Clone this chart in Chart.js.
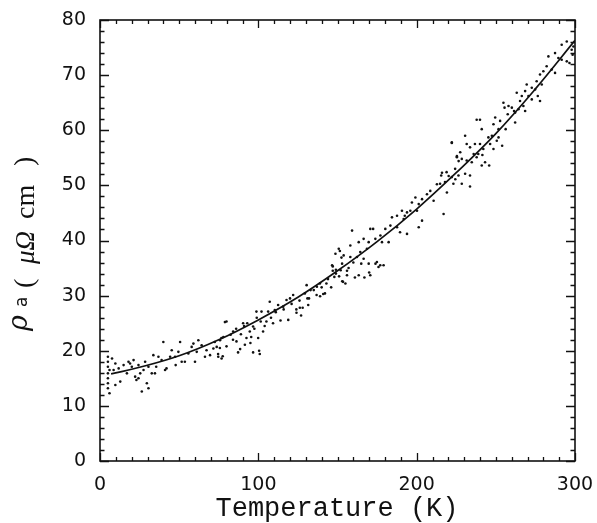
<!DOCTYPE html>
<html>
<head>
<meta charset="utf-8">
<script src="https://cdn.jsdelivr.net/npm/chart.js@4"></script>
<style>
  html, body { margin: 0; padding: 0; background: #fff; }
  #wrap { width: 597px; height: 523px; }
</style>
</head>
<body>
<div id="wrap"><canvas id="myChart" width="597" height="523"></canvas></div>
<script>
// measured points (temperature in K, resistivity in micro-ohm cm)
const tempK = [
	5, 5, 5, 5, 5, 5, 5, 6, 6, 7.6, 9.7, 8.6, 11.8, 12.8, 9.7, 14.9, 18, 20.1, 17, 22.2,
	24.3, 23, 25.4, 26.4, 21.2, 19, 24.3, 28.5, 30.6, 30.6, 29.6, 27.5, 32.7, 34.7, 35.5, 33.7, 36.9, 40, 38.9, 41.1,
	42, 44.3, 45.3, 47.4, 47.8, 49.5, 50.6, 51.6, 53.6, 55.8, 57.9, 59, 60, 62.1, 64.2, 61.1, 66.3, 67.3, 69.5, 71.6,
	73.7, 74.7, 76.8, 75.8, 77.9, 72.5, 78.9,
	74.6, 75.7, 76.7, 79.9, 79.9, 84.1, 82.5, 86.2, 87.2, 90.4, 91.5, 92.5, 94.6, 96.7, 96.7, 98.8, 99.9, 100.9, 103,
	102, 105.1, 101.5, 106.2, 107.2, 109.3, 110.4, 112.5, 115.7, 117.8, 118.9, 122, 124.1, 126.2, 127, 129.4, 130.5, 131.5,
	136.8, 138.9, 142.1, 140, 147, 151.5, 152.5, 153.5, 155, 148, 77.5, 100.5, 88.5, 95,
	120, 124, 128, 126, 131, 133, 137, 139, 141, 143, 147, 149, 151, 153, 156, 161, 165, 167, 170, 174, 177,
	146.6, 148.7, 150.8, 152.9, 153.9, 158.1, 158.1, 159.2, 162.3, 163.4, 164.4, 166.5, 166.5, 168.6, 169.7, 169.7,
	170.7, 172.5, 173.9, 174.9, 175.9, 177.1, 178.1, 180.2, 182.3, 183.4, 184.4, 187.6, 187.6, 189.5, 190.7, 191.8,
	193.9, 193.9, 196, 197, 199.2, 200.2, 201.3, 201.3, 203.4, 203.4, 206.5, 208.6, 210.7, 212.8, 216, 217, 219.1,
	220.2, 222.2, 224.4, 225.4, 226.5, 156, 163.4, 170.7, 179.1, 149, 152, 192.5,
	218.9, 222.2, 224.3, 226.4, 230.6, 233.7, 217.9, 223.2, 228.5, 233.7, 215.5, 214.8, 222.2, 227.5, 225.4, 228.5,
	231.6, 234.8, 237.9, 241.5, 243.2, 241.1, 245.8, 230.6, 231.6, 233.7, 236.8, 238.9, 236, 240, 242.1, 245.3,
	246.4, 247.5, 248.5, 250.6, 251.7, 240, 237.9, 241.1, 249.6, 248.5, 251.7, 254, 252.7, 256.2, 254.8, 255.5, 258,
	260.1, 261.5, 262.2, 262.2, 263.2, 264.3, 265.3, 266.4, 267.4, 268.5, 269.5, 270.6, 272.7, 272.7, 274.8, 275.8,
	276.5, 277.9, 277.9, 279, 280, 282.1, 283.2, 285.3, 287.4, 287.4, 289.5, 291.6, 291.6, 294.8, 294.8, 296.5, 297.9,
	298.5, 299, 257.5, 268.5,
	84, 86, 89, 91, 93, 95.5, 97.5, 99, 104, 108, 111, 114, 116, 121, 132, 135, 144, 146, 157, 160
];
const rhoA = [
	18.9, 18, 17.1, 15.9, 15, 14.1, 13.2, 12.3, 16.5, 18.6, 17.7, 16.5, 16.8, 14.4, 13.8, 17.4, 18, 17.1, 15.9, 15.3,
	15, 14.7, 15.9, 12.6, 18.3, 17.7, 17.4, 18, 17.1, 13.2, 14.1, 16.5, 15.9, 15.9, 17.1, 19.2, 18.9, 21.6, 18.3, 16.5,
	16.8, 18.9, 20.1, 18.9, 17.4, 19.8, 21.6, 18, 18, 19.5, 20.7, 21.3, 18, 21.9, 21, 19.8, 18.9, 20.1, 19.2, 20.4,
	20.7, 18.9, 18.6, 21.9, 22.5, 21.6, 25.2,
	19.4, 20.5, 22.3, 25.3, 20.8, 23.5, 22.9, 21.7, 19.7, 25, 21.1, 22.3, 23.5, 24.4, 19.7, 27.1, 22.3, 19.4, 23.5,
	27.1, 25.3, 25.3, 27.1, 28.9, 25, 27.4, 28.3, 28, 29.2, 25.6, 30.1, 26.9, 27.8, 26.4, 30.4, 31.9, 28.3,
	30.1, 32.2, 30.4, 31.5, 34.5, 38.1, 36.9, 32.5, 32.2, 33.4, 19, 20, 20.3, 21.4,
	29.5, 27.5, 27.8, 29.1, 29.5, 31, 31.6, 29.9, 30.3, 32.2, 35.3, 34.7, 33.5, 32.6, 34.5, 33.3, 35.8, 33.3, 34.2, 35.8, 35.5,
	35.5, 37.6, 38.5, 35.8, 37.3, 37, 39.1, 41.8, 37, 39.7, 37.9, 40.3, 36.7, 38.5, 39.7, 35.8,
	42.1, 42.1, 40.3, 36.1, 35.2, 40.9, 39.7, 42.1, 39.7, 42.7, 44.2, 44.5, 42.4, 41.5, 45.4, 43.9,
	45.1, 41.2, 45.4, 46.9, 47.8, 45.4, 46.6, 42.4, 47.5, 43.6, 48.4, 49, 47.2, 50.2, 52.3, 44.8, 48.7,
	51.7, 57.7, 51.1, 55.3, 54.4, 33.7, 33.7, 33.7, 35.5, 34, 34.6, 44.5,
	52.4, 51.5, 53, 51.8, 52.1, 51.8, 50.6, 50.3, 50.3, 49.8, 51.8, 50.3, 57.8, 56, 55.1, 54.8,
	54.5, 54.2, 55.1, 55.5, 54.2, 53.6, 53.6, 59, 57.5, 56.9, 57.5, 55.7, 55.7, 57.5, 56.6, 58.7,
	57.5, 59, 56.6, 58.1, 60.2, 61.9, 61.9, 60.2, 62.3, 61.1, 58.7, 57.2, 61.7, 60.2, 65, 64.1, 64.4,
	64.1, 63.5, 63.2, 61.4, 66.8, 63.8, 65.3, 66.2, 64.4, 67.1, 68.3, 66.2, 67.7, 65.6, 67.4, 68.9,
	66.2, 70.1, 65.3, 68.3, 70.7, 71.6, 73.4, 71, 74, 70.4, 73.1, 75.5, 72.8, 76.1, 72.5, 72.2, 74.6,
	73.7, 75.2, 62.9, 63.5,
	22, 24, 23, 24.5, 25, 22.5, 24, 26, 24.5, 26, 27, 25.5, 27.5, 28.5, 29.5, 31, 33, 31.5, 35, 36
];

// fitted curve
const fitT = [7, 25, 50, 75, 100, 125, 150, 175, 200, 225, 250, 275, 300];
const fitRho = [15.8, 17.0, 19.1, 22.0, 25.6, 29.7, 34.5, 39.8, 45.7, 52.3, 59.4, 67.5, 76.3];

const xTickLabels = [0, 100, 200, 300];
const yTickLabels = [0, 10, 20, 30, 40, 50, 60, 70, 80];

const points = tempK.map((t, i) => ({ x: t, y: rhoA[i] }));
const fitLine = fitT.map((t, i) => ({ x: t, y: fitRho[i] }));

const tickFont = { family: 'DejaVu Sans', size: 19 };

// inward ticks on all four sides, plus frame and axis titles
const framePlugin = {
	id: 'frame',
	afterDraw(chart) {
		const c = chart.ctx;
		const a = chart.chartArea;
		const xs = chart.scales.x;
		const ys = chart.scales.y;
		c.save();
		c.strokeStyle = '#111';
		c.lineWidth = 1.3;
		for (let v = 0; v <= 300; v += 10) {
			const px = Math.round(xs.getPixelForValue(v)) + 0.5;
			const len = v % 100 == 0 ? 8 : 4;
			c.beginPath();
			c.moveTo(px, a.bottom);
			c.lineTo(px, a.bottom - len);
			c.moveTo(px, a.top);
			c.lineTo(px, a.top + len);
			c.stroke();
		}
		for (let v = 0; v <= 80; v += 2) {
			const py = Math.round(ys.getPixelForValue(v)) + 0.5;
			const len = v % 10 == 0 ? 9 : 4.5;
			c.beginPath();
			c.moveTo(a.left, py);
			c.lineTo(a.left + len, py);
			c.moveTo(a.right, py);
			c.lineTo(a.right - len, py);
			c.stroke();
		}
		c.lineWidth = 1.6;
		c.strokeRect(a.left, a.top, a.right - a.left, a.bottom - a.top);

		// x title
		c.fillStyle = '#111';
		c.font = '27px "Liberation Mono"';
		c.textAlign = 'center';
		c.textBaseline = 'alphabetic';
		c.fillText('Temperature (K)', 337, 516);

		// y title, rotated; positions measured along the axis from its lower end
		c.translate(0, 331);
		c.rotate(-Math.PI / 2);
		c.textAlign = 'left';
		c.font = 'italic 27px "DejaVu Serif"';
		c.fillText('ρ', 0, 27);
		c.font = '17px "DejaVu Sans"';
		c.fillText('a', 24, 27);
		c.font = '28px "Liberation Serif"';
		c.fillText('(', 43, 33);
		c.font = 'italic 27px "Liberation Serif"';
		c.fillText('μΩ', 67, 34);
		c.font = '28px "Liberation Serif"';
		c.fillText('cm', 112, 34);
		c.fillText(')', 165, 33);
		c.restore();
	},
};

const ctx = document.getElementById('myChart').getContext('2d');
const my_chart = new Chart(ctx, {
	type: 'scatter',
	data: {
		datasets: [
			{
				label: 'data',
				data: points,
				pointRadius: 1.3,
				pointBorderWidth: 0,
				pointBackgroundColor: '#111',
				showLine: false,
			},
			{
				label: 'fit',
				type: 'line',
				data: fitLine,
				borderColor: '#111',
				borderWidth: 1.7,
				pointRadius: 0,
				tension: 0.4,
				fill: false,
			},
		],
	},
	options: {
		responsive: false,
		animation: false,
		layout: { padding: { left: 0, top: 20, right: 22, bottom: 0 } },
		plugins: { legend: { display: false }, tooltip: { enabled: false } },
		scales: {
			x: {
				type: 'linear',
				min: 0,
				max: 300,
				grid: { display: false, drawTicks: false },
				border: { display: false },
				afterFit: (s) => {
					s.height = 62;
					s.paddingLeft = 0;
					s.paddingRight = 0;
				},
				afterBuildTicks: (s) => { s.ticks = xTickLabels.map((v) => ({ value: v })); },
				ticks: { color: '#111', font: tickFont, padding: 13, maxRotation: 0 },
			},
			y: {
				type: 'linear',
				min: 0,
				max: 80,
				grid: { display: false, drawTicks: false },
				border: { display: false },
				afterFit: (s) => {
					s.width = 100;
					s.paddingTop = 0;
					s.paddingBottom = 0;
				},
				afterBuildTicks: (s) => { s.ticks = yTickLabels.map((v) => ({ value: v })); },
				ticks: { color: '#111', font: tickFont, padding: 14 },
			},
		},
	},
	plugins: [framePlugin],
});
</script>
</body>
</html>
